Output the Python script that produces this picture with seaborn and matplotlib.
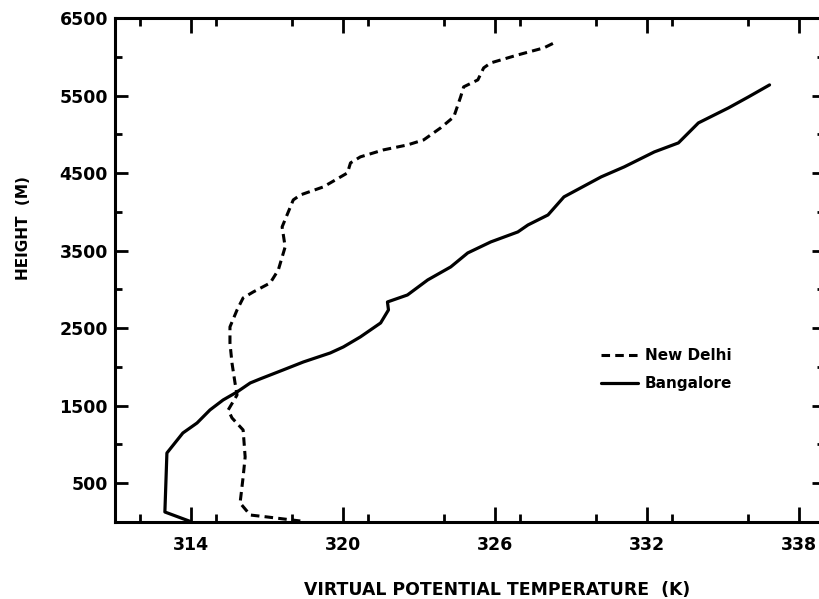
import matplotlib
matplotlib.use("Agg")
import matplotlib.pyplot as plt
import seaborn as sns
import pandas as pd
from matplotlib.ticker import MultipleLocator

sns.set_theme(style="white")
plt.rcParams['font.family'] = ['DejaVu Sans']

# Bangalore (solid) : virtual potential temperature (K) vs height (m)
bangalore_temp = [313.95, 312.97, 313.05, 313.68, 314.24, 314.75, 315.27, 315.82, 316.34,
                  316.73, 317.64, 318.44, 319.50, 320.02, 320.69, 321.49, 321.80, 321.76,
                  322.55, 323.35, 324.26, 324.93, 325.84, 326.91, 327.31, 328.10, 328.73,
                  330.20, 331.11, 332.30, 333.25, 334.04, 335.23, 336.02, 336.85]
bangalore_height = [10, 129, 890, 1148, 1277, 1445, 1574, 1677, 1793,
                    1845, 1961, 2064, 2180, 2258, 2387, 2567, 2735, 2838,
                    2928, 3122, 3290, 3470, 3612, 3741, 3831, 3960, 4193,
                    4451, 4580, 4773, 4889, 5147, 5341, 5483, 5637]

# New Delhi (dashed)
delhi_temp = [318.32, 317.01, 316.34, 315.94, 316.06, 316.14, 316.06, 315.62, 315.47,
              315.82, 315.74, 315.62, 315.54, 315.54, 315.82, 316.06, 316.46, 317.13,
              317.45, 317.72, 317.60, 318.04, 318.32, 319.23, 320.18, 320.30, 320.69,
              321.60, 322.55, 323.19, 323.86, 324.38, 324.65, 324.77, 325.33, 325.56,
              325.84, 326.91, 327.94, 328.42]
delhi_height = [13, 65, 90, 245, 580, 839, 1187, 1342, 1445,
                1638, 1793, 2051, 2309, 2516, 2735, 2890, 2967, 3083,
                3251, 3548, 3806, 4154, 4218, 4322, 4502, 4631, 4709,
                4799, 4863, 4928, 5083, 5225, 5483, 5612, 5702, 5857,
                5921, 6024, 6115, 6192]

x_ticks = [314, 320, 326, 332, 338]
y_ticks = [500, 1500, 2500, 3500, 4500, 5500, 6500]

fig = plt.figure(figsize=(8.2, 5.99), dpi=100)
ax = fig.add_axes([115/820, 77/599, 709/820, 504/599])

delhi = pd.DataFrame({"T": delhi_temp, "H": delhi_height})
bang = pd.DataFrame({"T": bangalore_temp, "H": bangalore_height})

sns.lineplot(data=delhi, x="T", y="H", sort=False, estimator=None, ax=ax,
             color="black", linewidth=2.2, linestyle=(0, (2.8, 1.7)),
             label="New Delhi")
sns.lineplot(data=bang, x="T", y="H", sort=False, estimator=None, ax=ax,
             color="black", linewidth=2.3, label="Bangalore")

ax.set_xlim(311, 339)
ax.set_ylim(0, 6500)
ax.set_xticks(x_ticks)
ax.set_xticklabels([str(v) for v in x_ticks])
ax.set_yticks(y_ticks)
ax.set_yticklabels([str(v) for v in y_ticks])
ax.xaxis.set_minor_locator(MultipleLocator(3))
ax.yaxis.set_minor_locator(MultipleLocator(500))

for side in ["left", "bottom", "top"]:
    ax.spines[side].set_color("black")
    ax.spines[side].set_linewidth(2.2)
ax.spines["right"].set_visible(False)

ax.tick_params(which="both", direction="in", colors="black",
               top=True, right=True, bottom=True, left=True,
               labeltop=False, labelright=False)
ax.tick_params(axis="x", which="major", length=11, width=2, pad=10)
ax.tick_params(axis="x", which="minor", length=6, width=2)
ax.tick_params(axis="y", which="major", length=9, width=2, pad=5)
ax.tick_params(axis="y", which="minor", length=5, width=2)
for lab in ax.get_xticklabels() + ax.get_yticklabels():
    lab.set_fontweight("bold")
    lab.set_fontsize(12.5)
    lab.set_color("black")

ax.set_xlabel("VIRTUAL POTENTIAL TEMPERATURE  (K)", fontsize=12.4, fontweight="bold",
              color="black")
ax.xaxis.set_label_coords((497 - 115) / 709, -59 / 504)
ax.set_ylabel("HEIGHT  (M)", fontsize=11, fontweight="bold", color="black")
ax.yaxis.set_label_coords(-(115 - 31) / 709, (522 - 228) / 504)

leg = ax.legend(loc="upper left", bbox_to_anchor=((601 - 115) / 709, (522 - 348) / 504),
                frameon=False, fontsize=11, handlelength=2.4, handletextpad=0.45,
                labelspacing=0.88, borderpad=0, borderaxespad=0)
for t in leg.get_texts():
    t.set_fontweight("bold")
    t.set_color("black")

ax.grid(False)
fig.savefig("out.png", dpi=100, facecolor="white")
